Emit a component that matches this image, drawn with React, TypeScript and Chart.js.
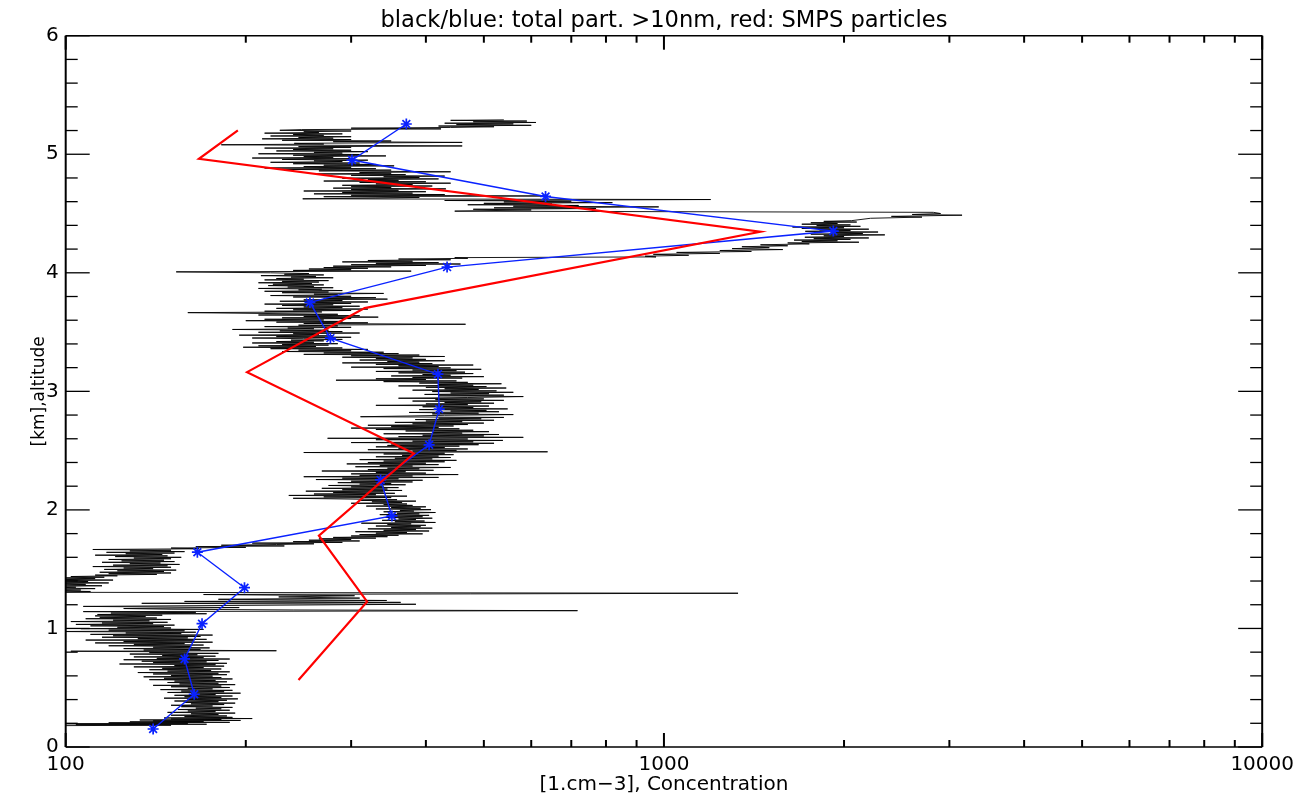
import React, { useEffect, useRef } from "react";
import { Chart, registerables } from "chart.js";

Chart.register(...registerables);

const TITLE = "black/blue: total part. >10nm, red: SMPS particles";
const X_TITLE = "[1.cm\u22123], Concentration";
const Y_TITLE = "[km],altitude";
const FONT = "'DejaVu Sans', sans-serif";

const xMajorTicks = [100, 1000, 10000];
const xMinorTicks = [200, 300, 400, 500, 600, 700, 800, 900, 2000, 3000, 4000, 5000, 6000, 7000, 8000, 9000];
const yMajorTicks = [0, 1, 2, 3, 4, 5, 6];
const yMinorTicks = [0.2, 0.4, 0.6, 0.8, 1.2, 1.4, 1.6, 1.8, 2.2, 2.4, 2.6, 2.8, 3.2, 3.4, 3.6, 3.8, 4.2, 4.4, 4.6, 4.8, 5.2, 5.4, 5.6, 5.8];

// blue: averaged total particles (>10nm)
const blueConc = [140, 164, 158, 169, 199, 166, 351, 336, 405, 421, 419, 277, 256, 434, 1919, 634, 301, 371];
const blueAlt = [0.152, 0.445, 0.743, 1.04, 1.344, 1.643, 1.949, 2.253, 2.549, 2.85, 3.145, 3.449, 3.75, 4.048, 4.352, 4.644, 4.951, 5.255];

// red: SMPS particles
const redConc = [245, 319, 265, 382, 201, 316, 1449, 167, 194];
const redAlt = [0.565, 1.226, 1.783, 2.475, 3.162, 3.702, 4.346, 4.962, 5.201];

// black: total particles >10nm, raw trace [concentration, altitude]
const blackTrace: [number, number][] = [
  [97, 0.180], [150, 0.184], [104, 0.188], [172, 0.192], [99, 0.196], [160, 0.200], [118, 0.204], [188, 0.208], [128, 0.212], [170, 0.216], [140, 0.220], [196, 0.224], [133, 0.228], [182, 0.232], [150, 0.236], [205, 0.240], [146, 0.245], [190, 0.250],
  [158, 0.256], [186, 0.262], [150, 0.268], [180, 0.274], [162, 0.280], [192, 0.286], [148, 0.292], [178, 0.298], [160, 0.304], [188, 0.310], [154, 0.316], [182, 0.322], [165, 0.328], [190, 0.334], [156, 0.340], [176, 0.346], [150, 0.352], [184, 0.358], [162, 0.364], [192, 0.370], [158, 0.376], [180, 0.382], [152, 0.388], [186, 0.394],
  [160, 0.400], [194, 0.406], [146, 0.412], [182, 0.418], [158, 0.424], [190, 0.430], [152, 0.436], [178, 0.442], [162, 0.448], [196, 0.454], [148, 0.460], [184, 0.466], [156, 0.472], [190, 0.478], [144, 0.484], [176, 0.490], [160, 0.496], [188, 0.502], [150, 0.508], [182, 0.514], [140, 0.520], [192, 0.526], [155, 0.532], [180, 0.538], [148, 0.544],
  [186, 0.550], [152, 0.556], [178, 0.562], [138, 0.568], [190, 0.574], [146, 0.580], [182, 0.586], [135, 0.592], [176, 0.598], [150, 0.604], [186, 0.610], [140, 0.616], [180, 0.622], [132, 0.628], [188, 0.634], [148, 0.640], [175, 0.646], [138, 0.652], [182, 0.658], [145, 0.664], [170, 0.670], [130, 0.676], [184, 0.682], [152, 0.688], [178, 0.694],
  [123, 0.700], [186, 0.706], [140, 0.712], [172, 0.718], [134, 0.724], [180, 0.730], [125, 0.736], [188, 0.742], [142, 0.748], [170, 0.754], [130, 0.760], [178, 0.766], [145, 0.772], [166, 0.778], [128, 0.784], [180, 0.790], [138, 0.796], [160, 0.802], [102, 0.808], [225, 0.812], [135, 0.818], [168, 0.824], [125, 0.830], [174, 0.836], [140, 0.842],
  [162, 0.848], [118, 0.854], [170, 0.860], [130, 0.866], [158, 0.872], [112, 0.878], [176, 0.884], [125, 0.890], [164, 0.896], [108, 0.902], [172, 0.908], [132, 0.914], [160, 0.920], [115, 0.926], [168, 0.932], [120, 0.938], [176, 0.944], [110, 0.950], [156, 0.956], [126, 0.962], [165, 0.968], [96, 0.974], [158, 0.980], [118, 0.986], [170, 0.992], [106, 0.998],
  [150, 1.004], [122, 1.010], [146, 1.016], [110, 1.022], [152, 1.028], [104, 1.034], [140, 1.040], [115, 1.046], [148, 1.052], [102, 1.058], [138, 1.064], [120, 1.070], [150, 1.076], [108, 1.082], [142, 1.088], [114, 1.094], [136, 1.100], [112, 1.106], [145, 1.112],
  [113, 1.118], [172, 1.124], [119, 1.130], [165, 1.136], [107, 1.142], [717, 1.150], [240, 1.156], [150, 1.162], [125, 1.168], [195, 1.176], [107, 1.186], [385, 1.204], [134, 1.212], [363, 1.220], [158, 1.228], [344, 1.236], [180, 1.246], [310, 1.256], [227, 1.266], [304, 1.276], [170, 1.286], [1330, 1.297], [92, 1.305],
  [110, 1.312], [94, 1.318], [106, 1.324], [90, 1.330], [112, 1.336], [96, 1.342], [104, 1.348], [92, 1.354], [115, 1.360], [97, 1.366], [108, 1.372], [93, 1.378], [118, 1.384], [100, 1.390], [109, 1.396], [95, 1.402], [120, 1.408], [98, 1.414], [112, 1.420], [94, 1.426], [116, 1.432], [102, 1.438], [122, 1.444],
  [112, 1.450], [142, 1.456], [118, 1.462], [150, 1.468], [114, 1.474], [146, 1.480], [122, 1.486], [153, 1.492], [116, 1.498], [140, 1.504], [125, 1.510], [150, 1.516], [111, 1.522], [148, 1.528], [120, 1.534], [155, 1.540], [128, 1.546], [144, 1.552], [115, 1.558], [152, 1.564], [124, 1.570], [146, 1.576], [118, 1.582], [150, 1.588], [130, 1.594], [156, 1.600], [121, 1.606], [148, 1.612], [112, 1.618], [145, 1.624], [126, 1.630], [152, 1.636], [117, 1.642], [158, 1.648], [128, 1.654], [150, 1.660], [111, 1.666], [167, 1.672],
  [150, 1.678], [200, 1.684], [165, 1.690], [232, 1.696], [182, 1.702], [225, 1.708],
  [260, 1.714], [205, 1.720], [290, 1.726], [240, 1.732], [310, 1.738], [255, 1.744], [300, 1.750], [265, 1.756], [330, 1.762], [280, 1.768], [345, 1.774], [300, 1.780], [360, 1.786],
  [310, 1.792], [395, 1.798], [330, 1.804], [372, 1.810], [305, 1.816], [405, 1.822], [340, 1.828], [385, 1.834], [320, 1.840], [410, 1.846], [350, 1.852], [392, 1.858], [330, 1.864], [400, 1.870], [345, 1.876], [378, 1.882], [312, 1.888], [415, 1.894], [355, 1.900], [398, 1.906], [338, 1.912], [385, 1.918], [360, 1.924], [410, 1.930], [342, 1.936], [395, 1.942],
  [350, 1.948], [405, 1.954], [335, 1.960], [390, 1.966], [358, 1.972], [415, 1.978], [340, 1.984], [382, 1.990], [362, 1.996], [408, 2.002], [330, 2.008], [392, 2.014], [350, 2.020], [400, 2.026], [318, 2.032], [380, 2.038], [340, 2.044], [372, 2.050], [300, 2.056], [365, 2.062], [325, 2.068], [385, 2.074], [310, 2.080], [358, 2.086],
  [240, 2.098], [350, 2.104], [270, 2.110], [372, 2.116], [236, 2.122], [330, 2.128], [260, 2.134], [355, 2.140], [280, 2.146], [340, 2.152], [252, 2.158], [365, 2.164], [290, 2.170], [345, 2.176], [268, 2.182], [360, 2.188], [300, 2.194], [340, 2.200], [275, 2.206], [370, 2.212], [310, 2.218], [350, 2.224], [285, 2.230], [380, 2.236], [300, 2.242],
  [395, 2.250], [262, 2.256], [360, 2.262], [290, 2.268], [420, 2.274], [250, 2.280], [380, 2.286], [310, 2.292], [453, 2.298], [300, 2.304], [400, 2.310], [330, 2.316], [370, 2.322], [268, 2.328], [412, 2.334], [320, 2.340], [390, 2.346], [345, 2.352], [440, 2.358], [305, 2.364], [380, 2.370], [335, 2.376], [420, 2.382], [295, 2.388],
  [400, 2.394], [320, 2.400], [430, 2.406], [340, 2.412], [450, 2.418], [310, 2.424], [410, 2.430], [355, 2.436], [440, 2.442], [330, 2.448], [420, 2.454], [365, 2.460], [445, 2.466], [340, 2.472], [430, 2.478], [250, 2.484], [639, 2.490], [380, 2.496], [450, 2.502], [320, 2.508], [470, 2.514], [360, 2.520], [430, 2.526], [330, 2.532], [455, 2.538], [345, 2.544],
  [490, 2.550], [350, 2.556], [520, 2.562], [300, 2.568], [480, 2.574], [380, 2.580], [538, 2.586], [330, 2.592], [470, 2.598], [274, 2.604], [582, 2.612], [360, 2.618], [500, 2.624], [395, 2.630], [530, 2.636], [340, 2.642], [460, 2.648], [410, 2.654], [510, 2.660], [370, 2.666], [480, 2.672], [330, 2.678], [455, 2.684], [300, 2.690], [420, 2.696], [350, 2.702], [445, 2.708], [320, 2.714], [470, 2.720], [380, 2.726], [500, 2.732], [355, 2.738], [460, 2.744],
  [400, 2.750], [520, 2.756], [384, 2.762], [495, 2.768], [420, 2.774], [540, 2.780], [311, 2.786], [372, 2.792], [430, 2.798], [560, 2.804], [410, 2.810], [490, 2.816], [375, 2.822], [530, 2.828], [440, 2.834], [505, 2.840], [390, 2.846], [548, 2.852], [420, 2.858], [480, 2.864], [395, 2.870], [510, 2.876], [330, 2.882], [470, 2.888], [400, 2.894], [520, 2.900], [430, 2.906], [495, 2.912], [380, 2.918], [540, 2.924], [415, 2.930], [500, 2.936], [360, 2.942],
  [470, 2.948], [582, 2.956], [420, 2.962], [540, 2.968], [398, 2.974], [510, 2.980], [440, 2.986], [560, 2.992], [410, 2.998], [525, 3.004], [380, 3.010], [490, 3.016], [430, 3.022], [545, 3.028], [400, 3.034], [505, 3.040], [360, 3.046], [480, 3.052], [420, 3.058], [535, 3.064], [390, 3.070], [470, 3.076], [340, 3.082], [450, 3.088], [283, 3.094], [400, 3.100], [330, 3.106], [460, 3.112], [380, 3.118], [500, 3.124], [350, 3.130], [440, 3.136], [395, 3.142],
  [480, 3.150], [360, 3.156], [465, 3.162], [330, 3.168], [450, 3.174], [380, 3.180], [495, 3.186], [340, 3.192], [440, 3.198], [300, 3.204], [420, 3.210], [360, 3.216], [480, 3.222], [330, 3.228], [410, 3.234], [290, 3.240], [390, 3.246], [345, 3.252], [430, 3.258], [310, 3.264], [400, 3.270], [330, 3.276], [380, 3.282], [290, 3.288],
  [430, 3.294], [300, 3.300], [390, 3.306], [250, 3.312], [360, 3.318], [270, 3.324], [340, 3.330], [230, 3.336], [300, 3.342], [245, 3.348], [320, 3.354], [220, 3.360], [290, 3.366], [198, 3.372], [262, 3.378], [210, 3.384], [275, 3.390], [230, 3.396], [285, 3.402], [205, 3.408], [260, 3.414], [225, 3.420], [270, 3.426], [238, 3.432], [290, 3.438], [250, 3.444],
  [205, 3.450], [300, 3.456], [225, 3.462], [280, 3.468], [195, 3.474], [265, 3.480], [240, 3.486], [310, 3.492], [210, 3.498], [290, 3.504], [228, 3.510], [275, 3.516], [190, 3.522], [260, 3.528], [235, 3.534], [300, 3.540], [215, 3.546], [285, 3.552], [245, 3.558], [466, 3.566], [250, 3.572], [320, 3.578], [225, 3.584], [290, 3.590], [200, 3.596],
  [270, 3.602], [215, 3.608], [300, 3.614], [230, 3.620], [333, 3.626], [250, 3.632], [310, 3.638], [210, 3.644], [285, 3.650], [160, 3.664], [268, 3.670], [215, 3.676], [300, 3.682], [240, 3.688], [320, 3.694], [225, 3.700], [290, 3.706], [250, 3.712], [310, 3.718], [230, 3.724], [280, 3.730], [215, 3.736], [300, 3.742],
  [255, 3.748], [320, 3.754], [228, 3.760], [290, 3.766], [250, 3.772], [345, 3.778], [270, 3.784], [330, 3.790], [240, 3.796], [300, 3.802], [220, 3.808], [285, 3.814], [260, 3.820], [340, 3.826], [230, 3.832], [275, 3.838], [215, 3.844], [290, 3.850], [245, 3.856], [268, 3.862], [210, 3.868], [280, 3.874], [235, 3.880], [260, 3.886], [218, 3.892],
  [270, 3.898], [222, 3.904], [258, 3.910], [210, 3.916], [265, 3.922], [230, 3.928], [275, 3.934], [215, 3.940], [250, 3.946], [225, 3.952], [280, 3.958], [238, 3.964], [262, 3.970], [212, 3.976], [270, 3.982], [232, 3.988], [255, 3.994], [220, 4.000], [153, 4.008], [378, 4.014], [240, 4.020], [300, 4.026], [255, 4.032], [320, 4.038], [270, 4.044],
  [350, 4.050], [280, 4.056], [400, 4.062], [300, 4.068], [457, 4.074], [330, 4.080], [420, 4.086], [290, 4.092], [380, 4.098], [320, 4.104], [440, 4.110], [360, 4.116], [470, 4.122], [447, 4.128], [970, 4.134],
  [930, 4.140], [1100, 4.148], [960, 4.156], [1240, 4.164], [1050, 4.172], [1400, 4.180], [1240, 4.188], [1580, 4.196], [1300, 4.204], [1500, 4.212], [1350, 4.220], [1610, 4.228], [1450, 4.236], [1750, 4.244],
  [1610, 4.252], [2118, 4.258], [1700, 4.264], [1950, 4.270], [1650, 4.276], [2050, 4.282], [1780, 4.288], [2200, 4.294], [1720, 4.300], [2000, 4.306], [1850, 4.312], [2340, 4.320], [1760, 4.326], [2150, 4.332], [1900, 4.338], [2280, 4.344], [1723, 4.350], [2050, 4.356], [1820, 4.362], [2200, 4.368], [1700, 4.374], [2000, 4.380], [1640, 4.386], [2130, 4.392], [1800, 4.398], [2050, 4.404], [1700, 4.410], [1950, 4.416], [1760, 4.422], [2100, 4.428], [1850, 4.434], [2060, 4.440],
  [2215, 4.460], [2700, 4.470], [2400, 4.476], [3150, 4.486], [2600, 4.492], [2900, 4.500], [2820, 4.510], [447, 4.520],
  [600, 4.530], [480, 4.536], [770, 4.542], [520, 4.548], [980, 4.556], [560, 4.562], [720, 4.568], [470, 4.574], [650, 4.580], [500, 4.586], [820, 4.592], [540, 4.598], [700, 4.604], [430, 4.610], [1197, 4.618], [249, 4.624], [330, 4.630],
  [390, 4.636], [270, 4.642], [640, 4.648], [300, 4.654], [430, 4.660], [260, 4.666], [380, 4.672], [290, 4.678], [400, 4.684], [250, 4.690], [360, 4.696], [300, 4.702], [432, 4.708], [280, 4.714], [350, 4.720],
  [300, 4.726], [410, 4.732], [290, 4.738], [380, 4.744], [330, 4.750], [440, 4.756], [310, 4.762], [400, 4.768], [270, 4.774], [360, 4.780], [320, 4.786], [420, 4.792], [290, 4.798], [390, 4.804], [340, 4.810], [430, 4.816], [300, 4.822], [370, 4.828], [263, 4.834], [350, 4.840], [310, 4.846],
  [440, 4.852], [265, 4.860], [350, 4.866], [230, 4.872], [330, 4.878], [215, 4.884], [300, 4.890], [250, 4.896], [354, 4.902], [270, 4.908], [330, 4.914], [240, 4.920], [310, 4.926], [220, 4.932], [290, 4.938], [260, 4.944],
  [320, 4.950], [230, 4.956], [300, 4.962], [205, 4.968], [280, 4.974], [250, 4.980], [343, 4.986], [240, 4.992], [310, 4.998], [210, 5.004], [290, 5.010], [260, 5.016], [320, 5.022], [225, 5.028], [300, 5.034], [240, 5.040], [280, 5.046],
  [215, 5.052], [300, 5.058], [245, 5.064], [460, 5.070], [182, 5.080], [270, 5.086], [241, 5.092], [460, 5.100], [280, 5.106], [350, 5.112],
  [230, 5.118], [300, 5.124], [213, 5.130], [280, 5.136], [245, 5.142], [300, 5.148], [220, 5.154], [270, 5.160], [240, 5.166], [290, 5.172], [215, 5.178], [265, 5.184], [250, 5.190], [300, 5.196], [228, 5.202], [248, 5.208], [424, 5.214],
  [300, 5.220], [440, 5.226], [520, 5.232], [420, 5.238], [600, 5.244], [450, 5.250], [560, 5.256], [430, 5.262], [611, 5.268], [480, 5.274], [590, 5.280], [440, 5.286], [540, 5.290],
];

const framePlugin = {
  id: "idlFrame",
  afterDatasetsDraw(chart: any) {
    const { ctx, chartArea: a, scales } = chart;
    const xs = scales.x;
    const ys = scales.y;
    ctx.save();
    ctx.strokeStyle = "#000";
    const seg = (x1: number, y1: number, x2: number, y2: number, w: number) => {
      ctx.lineWidth = w;
      ctx.beginPath();
      ctx.moveTo(x1, y1);
      ctx.lineTo(x2, y2);
      ctx.stroke();
    };
    // frame
    seg(a.left, a.top, a.right, a.top, 1.5);
    seg(a.left, a.bottom, a.right, a.bottom, 1.5);
    seg(a.left, a.top, a.left, a.bottom, 2);
    seg(a.right, a.top, a.right, a.bottom, 2);
    const xTick = (v: number, len: number) => {
      const p = xs.getPixelForValue(v);
      seg(p, a.bottom, p, a.bottom - len, 2);
      seg(p, a.top, p, a.top + len, 2);
    };
    const yTick = (v: number, len: number) => {
      const p = ys.getPixelForValue(v);
      seg(a.left, p, a.left + len, p, 1.3);
      seg(a.right, p, a.right - len, p, 1.3);
    };
    xMajorTicks.forEach((v) => xTick(v, 14));
    xMinorTicks.forEach((v) => xTick(v, 7));
    yMajorTicks.forEach((v) => yTick(v, 24));
    yMinorTicks.forEach((v) => yTick(v, 12));
    // title
    ctx.fillStyle = "#000";
    ctx.font = `22.6px ${FONT}`;
    ctx.textAlign = "center";
    ctx.textBaseline = "alphabetic";
    ctx.fillText(TITLE, (a.left + a.right) / 2, 27);
    ctx.restore();
  },
};

export default function App() {
  const ref = useRef<HTMLCanvasElement | null>(null);

  useEffect(() => {
    if (!ref.current) return;
    const chart = new Chart(ref.current, {
      type: "scatter",
      data: {
        datasets: [
          {
            label: "SMPS particles",
            data: redConc.map((c, i) => ({ x: c, y: redAlt[i] })),
            showLine: true,
            borderColor: "#ff0000",
            backgroundColor: "#ff0000",
            borderWidth: 2.2,
            pointRadius: 0,
            tension: 0,
            order: 0,
          },
          {
            label: "total part. >10nm (avg)",
            data: blueConc.map((c, i) => ({ x: c, y: blueAlt[i] })),
            showLine: true,
            borderColor: "#0a22ff",
            backgroundColor: "#0a22ff",
            borderWidth: 1.4,
            pointStyle: "star",
            pointRadius: 5.5,
            pointBorderWidth: 1.7,
            pointBorderColor: "#0a22ff",
            tension: 0,
            order: 1,
          },
          {
            label: "total part. >10nm",
            data: blackTrace.map(([c, h]) => ({ x: c, y: h })),
            showLine: true,
            borderColor: "#000000",
            backgroundColor: "#000000",
            borderWidth: 0.9,
            pointRadius: 0,
            tension: 0,
            order: 2,
          },
        ],
      },
      options: {
        animation: false,
        responsive: false,
        events: [],
        layout: { padding: { top: 35.7, right: 35.3, left: 0, bottom: 0 } },
        plugins: {
          legend: { display: false },
          tooltip: { enabled: false },
          title: { display: false },
        },
        scales: {
          x: {
            type: "logarithmic",
            min: 100,
            max: 10000,
            grid: { display: false, drawTicks: false },
            border: { display: false },
            afterBuildTicks: (s: any) => {
              s.ticks = xMajorTicks.map((v) => ({ value: v }));
            },
            afterFit: (s: any) => {
              s.height = 50;
            },
            ticks: {
              autoSkip: false,
              maxRotation: 0,
              padding: 6,
              color: "#000",
              font: { family: FONT, size: 20 },
              callback: (v: any) => String(v),
            },
            title: {
              display: true,
              text: X_TITLE,
              color: "#000",
              font: { family: FONT, size: 20 },
              padding: { top: 0, bottom: 0 },
            },
          },
          y: {
            type: "linear",
            min: 0,
            max: 6,
            grid: { display: false, drawTicks: false },
            border: { display: false },
            afterBuildTicks: (s: any) => {
              s.ticks = yMajorTicks.map((v) => ({ value: v }));
            },
            afterFit: (s: any) => {
              s.width = 65.7;
            },
            ticks: {
              autoSkip: false,
              padding: 7,
              color: "#000",
              font: { family: FONT, size: 20 },
              callback: (v: any) => String(v),
            },
            title: {
              display: true,
              text: Y_TITLE,
              color: "#000",
              font: { family: FONT, size: 17 },
              padding: { top: 29, bottom: 0 },
            },
          },
        },
      },
      plugins: [framePlugin],
    } as any);
    return () => chart.destroy();
  }, []);

  return (
    <div style={{ position: "fixed", left: 0, top: 0, width: 1300, height: 797, background: "#fff" }}>
      <canvas ref={ref} width={1300} height={797} style={{ display: "block" }} />
    </div>
  );
}
